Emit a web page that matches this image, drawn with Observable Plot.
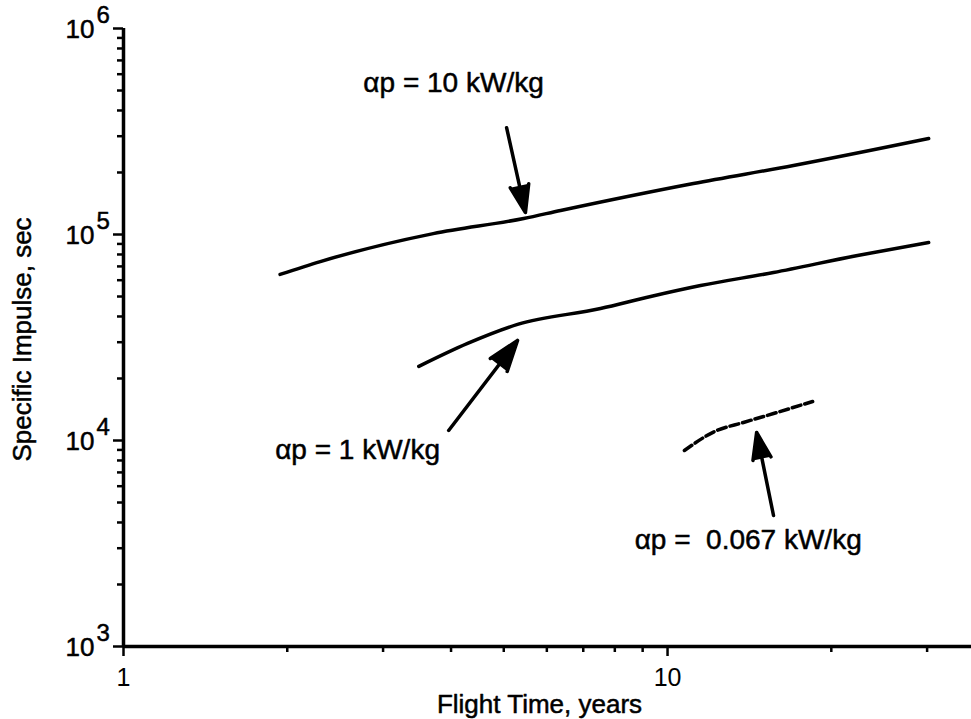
<!DOCTYPE html>
<html>
<head>
<meta charset="utf-8">
<script src="https://cdn.jsdelivr.net/npm/d3@7"></script>
<script src="https://cdn.jsdelivr.net/npm/@observablehq/plot@0.6"></script>
<style>
  html, body { margin: 0; padding: 0; background: #fff; }
</style>
</head>
<body>
<div id="chart"></div>
<script>
// Flight time (years) and specific impulse (sec)
const t10 = [1.94, 2.30, 3.71, 5.44, 6.36, 11.16, 17.04, 30.2];
const isp10 = [64000, 73900, 101000, 119600, 130800, 176900, 216300, 292400];

const t1 = [3.49, 4.29, 5.30, 7.53, 9.31, 11.50, 15.66, 22.35, 30.2];
const isp1 = [22900, 29600, 36600, 43700, 50000, 56500, 65400, 79100, 91400];

const t0067 = [10.74, 12.21, 13.79, 15.66, 18.48];
const isp0067 = [8940, 11060, 12230, 13520, 15460];

// Axis ticks
const xMajorTicks = [1, 10];
const xMinorTicks = [2, 3, 4, 5, 6, 7, 8, 9, 20, 30];
const yMajorTicks = [1e3, 1e4, 1e5, 1e6];
const yExponents = ["3", "4", "5", "6"];
const yMinorTicks = [2e3, 3e3, 4e3, 5e3, 6e3, 7e3, 8e3, 9e3,
                     2e4, 3e4, 4e4, 5e4, 6e4, 7e4, 8e4, 9e4,
                     2e5, 3e5, 4e5, 5e5, 6e5, 7e5, 8e5, 9e5];

// Annotations
const labelText = ["αp = 10 kW/kg", "αp = 1 kW/kg", "αp =  0.067 kW/kg"];
const labelX = [2.76, 1.90, 8.70];
const labelY = [541000, 8940, 3270];

const arrowX1 = [5.06, 3.96, 15.66];
const arrowY1 = [330000, 11190, 4325];
const arrowX2 = [5.48, 5.30, 14.58];
const arrowY2 = [127900, 30600, 10940];

const heavy = { fill: "black", stroke: "black", strokeWidth: 0.5 };

const chart = Plot.plot({
  width: 971,
  height: 719,
  marginLeft: 123,
  marginRight: 0,
  marginTop: 28,
  marginBottom: 73,
  style: { fontFamily: "Liberation Sans, Arial, sans-serif", fontSize: "22px", color: "black", background: "white" },
  x: { type: "log", domain: [1, 36.2], label: null },
  y: { type: "log", domain: [1e3, 1e6], label: null },
  marks: [
    // axes ticks
    Plot.axisY(yMinorTicks, { tickSize: 6, tickFormat: () => "", strokeWidth: 2.5 }),
    Plot.axisY(yMajorTicks, { tickSize: 10, tickFormat: () => "", strokeWidth: 2.5 }),
    Plot.axisX(xMinorTicks, { tickSize: 6, tickFormat: () => "", strokeWidth: 2.5 }),
    Plot.axisX(xMajorTicks, { tickSize: 10, tickPadding: 12, fontSize: 25, tickFormat: d => String(d), strokeWidth: 2.5 }),
    Plot.ruleX([1], { strokeWidth: 3.5 }),
    Plot.ruleY([1e3], { strokeWidth: 3.5 }),
    // y tick labels 10^n
    Plot.text(yMajorTicks, { frameAnchor: "left", y: d => d, text: () => "10", textAnchor: "end", dx: -29, dy: 1, fontSize: 26, ...heavy }),
    Plot.text(yMajorTicks, { frameAnchor: "left", y: d => d, text: (d, i) => yExponents[i], textAnchor: "start", dx: -27, dy: -13, fontSize: 24, ...heavy }),
    // axis titles
    Plot.text(["Specific Impulse, sec"], { frameAnchor: "left", dx: -101, dy: 2, rotate: -90, textAnchor: "middle", lineAnchor: "middle", fontSize: 26, ...heavy }),
    Plot.text(["Flight Time, years"], { frameAnchor: "bottom", dx: -8, dy: 58, textAnchor: "middle", lineAnchor: "middle", fontSize: 26, ...heavy }),
    // curves
    Plot.line(t10, { x: t10, y: isp10, strokeWidth: 3.5, curve: "monotone-x", stroke: "black" }),
    Plot.line(t1, { x: t1, y: isp1, strokeWidth: 3.5, curve: "monotone-x", stroke: "black" }),
    Plot.line(t0067, { x: t0067, y: isp0067, strokeWidth: 3.5, curve: "monotone-x", stroke: "black", strokeDasharray: "9,4" }),
    // arrows
    Plot.arrow(arrowX1, { x1: arrowX1, y1: arrowY1, x2: arrowX2, y2: arrowY2, strokeWidth: 3.5, headLength: 14, headAngle: 38, stroke: "black", fill: "black" }),
    // labels
    Plot.text(labelText, { x: labelX, y: labelY, text: labelText, textAnchor: "start", lineAnchor: "middle", fontSize: 28, ...heavy })
  ]
});

document.getElementById("chart").appendChild(chart);
</script>
</body>
</html>
